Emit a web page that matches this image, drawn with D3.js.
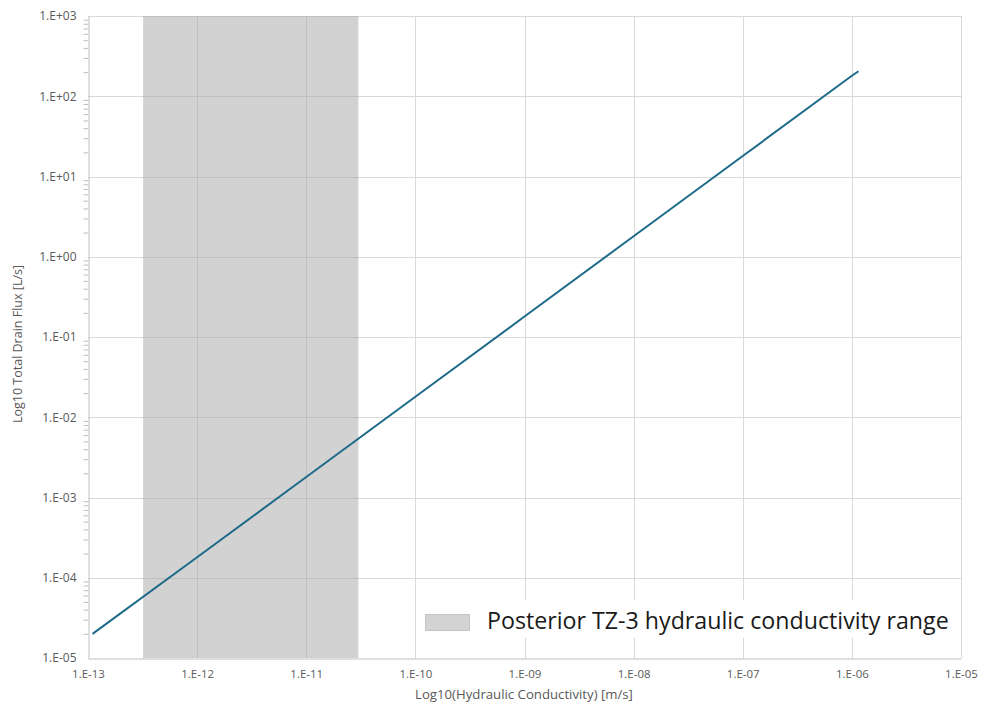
<!DOCTYPE html>
<html>
<head>
<meta charset="utf-8">
<script src="https://cdn.jsdelivr.net/npm/d3@7"></script>
<style>
  body { margin: 0; background: #fff; }
  text { font-family: "Open Sans", "Liberation Sans", sans-serif; }
</style>
</head>
<body>
<div id="chart"></div>
<script>
// Series: hydraulic conductivity [m/s] vs total drain flux [L/s]
const conductivity = [1.1e-13, 1e-12, 1e-11, 1e-10, 1e-9, 1e-8, 1e-7, 1e-6, 1.15e-6];
const drainFlux = [2.0e-5, 1.8e-4, 1.8e-3, 1.8e-2, 0.18, 1.8, 18, 180, 205];

// Shaded posterior range
const rangeK = [3.2e-13, 3.0e-11];
const legendLabel = 'Posterior TZ-3 hydraulic conductivity range';

// Axis ticks
const xTicks = [1e-13, 1e-12, 1e-11, 1e-10, 1e-9, 1e-8, 1e-7, 1e-6, 1e-5];
const yTicks = [1e-5, 1e-4, 1e-3, 1e-2, 1e-1, 1e0, 1e1, 1e2, 1e3];

const width = 982, height = 708;
const margin = { left: 88, right: 21, top: 16, bottom: 50 };

const svg = d3.select('#chart').append('svg')
    .attr('width', width)
    .attr('height', height);

const x = d3.scaleLog()
    .domain([1e-13, 1e-5])
    .range([margin.left, width - margin.right]);

const y = d3.scaleLog()
    .domain([1e-5, 1e3])
    .range([height - margin.bottom, margin.top]);

// Excel-style scientific label: 1.E-13, 1.E+03
const fmt = v => {
    const e = Math.round(Math.log10(v));
    const s = e < 0 ? '-' : '+';
    return '1.E' + s + String(Math.abs(e)).padStart(2, '0');
};

// Gridlines
const grid = svg.append('g').attr('stroke', '#d9d9d9').attr('stroke-width', 1);
grid.selectAll('line.vx')
    .data(xTicks.slice(1))
    .join('line')
    .attr('x1', d => Math.round(x(d)) + 0.5)
    .attr('x2', d => Math.round(x(d)) + 0.5)
    .attr('y1', y(1e3))
    .attr('y2', y(1e-5));
grid.selectAll('line.hy')
    .data(yTicks.slice(1))
    .join('line')
    .attr('y1', d => Math.round(y(d)) + 0.5)
    .attr('y2', d => Math.round(y(d)) + 0.5)
    .attr('x1', x(1e-13))
    .attr('x2', x(1e-5));

// Shaded range
svg.append('rect')
    .attr('x', x(rangeK[0]))
    .attr('y', y(1e3))
    .attr('width', x(rangeK[1]) - x(rangeK[0]))
    .attr('height', y(1e-5) - y(1e3))
    .attr('fill', '#a6a6a6')
    .attr('fill-opacity', 0.5);

// Axes
const xAxis = svg.append('g')
    .attr('transform', `translate(0,${Math.round(y(1e-5)) + 0.5})`)
    .call(d3.axisBottom(x).tickValues(xTicks).tickFormat(fmt).tickSize(0).tickPadding(11));
xAxis.select('.domain').attr('stroke', '#bfbfbf');
xAxis.selectAll('text').attr('fill', '#595959').style('font-size', '11.5px');

const minorY = [];
yTicks.slice(0, -1).forEach(t => {
    for (let k = 2; k <= 9; k++) minorY.push(t * k);
});

const yAxis = svg.append('g')
    .attr('transform', `translate(${Math.round(x(1e-13)) + 0.5},0)`)
    .call(d3.axisLeft(y).tickValues(yTicks).tickFormat(fmt).tickSize(0).tickPadding(12));
yAxis.select('.domain').attr('stroke', '#bfbfbf');
yAxis.selectAll('text').attr('fill', '#595959').style('font-size', '12px');

svg.append('g')
    .attr('transform', `translate(${Math.round(x(1e-13)) + 0.5},0)`)
    .call(d3.axisLeft(y).tickValues(minorY).tickFormat('').tickSize(5))
    .call(g => g.select('.domain').remove())
    .selectAll('line').attr('stroke', '#bfbfbf');

// Series line
const line = d3.line()
    .x((d, i) => x(conductivity[i]))
    .y(d => y(d));

svg.append('path')
    .datum(drainFlux)
    .attr('d', line)
    .attr('fill', 'none')
    .attr('stroke', '#1d6a89')
    .attr('stroke-width', 2);

// Axis titles
svg.append('text')
    .attr('x', 524)
    .attr('y', 699)
    .attr('text-anchor', 'middle')
    .attr('fill', '#595959')
    .style('font-size', '13.2px')
    .text('Log10(Hydraulic Conductivity) [m/s]');

svg.append('text')
    .attr('transform', 'translate(22,344) rotate(-90)')
    .attr('text-anchor', 'middle')
    .attr('fill', '#595959')
    .style('font-size', '12.5px')
    .text('Log10 Total Drain Flux [L/s]');

// Legend
const legend = svg.append('g').attr('transform', 'translate(418,600)');
legend.append('rect')
    .attr('width', 540)
    .attr('height', 38)
    .attr('fill', '#fff');
legend.append('rect')
    .attr('x', 7.5)
    .attr('y', 14.5)
    .attr('width', 44)
    .attr('height', 16)
    .attr('fill', '#d3d3d3')
    .attr('stroke', '#c4c4c4')
    .attr('stroke-width', 1);
legend.append('text')
    .attr('x', 69)
    .attr('y', 29)
    .attr('fill', '#1a1a1a')
    .style('font-size', '23.2px')
    .text(legendLabel);
</script>
</body>
</html>
